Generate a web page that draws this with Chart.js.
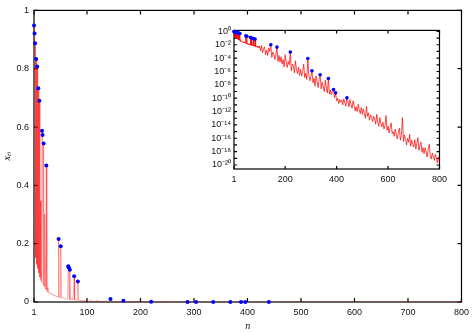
<!DOCTYPE html>
<html>
<head>
<meta charset="utf-8">
<script src="https://cdn.jsdelivr.net/npm/chart.js@4.4.1/dist/chart.umd.min.js"></script>
<style>
  html, body { margin: 0; padding: 0; background: #fff; }
  #wrap { position: relative; width: 474px; height: 333px; }
  #mainChart { position: absolute; left: 0; top: 0; }
  #insetChart { position: absolute; left: 196px; top: 22px; }
</style>
</head>
<body>
<div id="wrap">
  <canvas id="mainChart" width="474" height="333"></canvas>
  <canvas id="insetChart" width="256" height="170"></canvas>
</div>
<script>
// x_n, stored as log10(x_n)
const nEarly = [1, 2, 3, 4, 5, 6, 7, 8, 9, 10, 11, 12, 13, 14, 15, 16, 17, 18, 19, 20, 21, 22, 23, 24,
  25, 26, 27, 28, 30, 32, 34, 36, 38, 40, 42, 44, 46, 47, 48, 50, 51, 52, 54, 56, 58, 60, 62, 64,
  65, 66, 67, 68, 69, 70, 72, 74, 76, 77, 78, 80, 82, 83, 84, 86, 88, 90, 92, 94, 96, 98];
const logXEarly = [-0.023, -0.036, -0.052, -0.82, -0.079, -0.89, -0.093, -0.94, -0.135, -1.0, -0.161, -1.07,
  -0.46, -1.12, -1.17, -0.231, -0.242, -1.24, -0.265, -1.28, -0.52, -1.33, -1.35, -0.330,
  -1.40, -1.46, -1.30, -1.50, -1.55, -1.48, -1.60, -1.56, -1.68, -1.62, -1.74, -1.70, -1.80,
  -0.666, -1.78, -1.85, -0.719, -1.82, -1.92, -1.86, -1.97, -1.90, -2.02, -1.95,
  -0.913, -0.928, -2.05, -0.955, -2.0, -2.08, -2.0, -2.12, -1.056, -2.1, -2.18,
  -2.1, -2.22, -1.155, -2.15, -2.26, -2.2, -2.32, -2.25, -2.38, -2.3, -2.42];

const nLate = [100, 104, 108, 112, 116, 120, 124, 128, 132, 136, 140, 144, 148, 152, 156, 160, 164, 168, 172, 176,
  180, 184, 188, 192, 196, 200, 204, 208, 212, 216, 220, 224, 228, 232, 236, 240, 244, 248, 252, 256,
  260, 264, 268, 272, 276, 280, 284, 288, 292, 296, 300, 304, 308, 312, 316, 320, 324, 328, 332, 336,
  340, 344, 348, 352, 356, 360, 364, 368, 372, 376, 380, 384, 388, 392, 396, 400, 404, 408, 412, 416,
  420, 424, 428, 432, 436, 440, 444, 448, 452, 456, 460, 464, 468, 472, 476, 480, 484, 488, 492, 496,
  500, 504, 508, 512, 516, 520, 524, 528, 532, 536, 540, 544, 548, 552, 556, 560, 564, 568, 572, 576,
  580, 584, 588, 592, 596, 600, 604, 608, 612, 616, 620, 624, 628, 632, 636, 640, 644, 648, 652, 656,
  660, 664, 668, 672, 676, 680, 684, 688, 692, 696, 700, 704, 708, 712, 716, 720, 724, 728, 732, 736,
  740, 744, 748, 752, 756, 760, 764, 768, 772, 776, 780, 784, 788, 792, 796, 800];
const logXLate = [-2.2, -2.9, -2.1, -3.2, -2.6, -2.3, -3.5, -2.8, -3.6, -2.5,
  -3.0, -2.0, -3.9, -3.1, -3.4, -4.2, -3.5, -2.35, -4.5, -3.6,
  -4.6, -3.8, -4.9, -4.2, -5.3, -3.5, -4.6, -5.4, -4.5, -5.0,
  -3.1, -5.9, -4.9, -5.2, -6.2, -4.4, -5.8, -6.3, -5.4, -6.6,
  -5.7, -6.7, -6.0, -4.9, -6.9, -6.3, -7.2, -4.05, -6.5, -7.4,
  -6.8, -5.9, -7.7, -7.0, -8.2, -6.7, -7.5, -8.4, -7.1, -6.5,
  -8.6, -7.6, -8.3, -9.0, -7.3, -8.5, -9.2, -7.05, -9.4, -8.8,
  -9.5, -8.9, -8.7, -9.9, -9.2, -10.4, -10.0, -10.8, -10.2, -10.6,
  -10.3, -11.0, -10.1, -10.7, -11.2, -9.95, -10.5, -11.3, -10.2, -11.0,
  -11.5, -10.4, -11.1, -11.9, -11.3, -12.0, -10.9, -11.7, -12.3, -11.4,
  -12.4, -11.6, -12.3, -13.0, -11.2, -12.7, -12.2, -13.3, -12.5, -12.9,
  -13.5, -12.7, -13.1, -13.9, -12.4, -13.6, -14.2, -12.9, -13.8, -14.3,
  -13.6, -14.6, -14.1, -12.6, -14.8, -14.2, -15.2, -14.4, -13.7, -15.3,
  -15.0, -15.7, -14.6, -15.4, -16.1, -15.1, -14.5, -16.3, -15.5, -12.9,
  -16.5, -15.5, -16.2, -17.0, -16.0, -16.6, -15.4, -17.2, -16.3, -16.9,
  -17.3, -16.2, -17.6, -16.8, -15.9, -17.8, -17.1, -16.6, -18.1, -17.4,
  -18.3, -17.4, -18.0, -18.8, -17.7, -16.9, -18.6, -19.1, -18.2, -18.8,
  -19.3, -18.4, -19.0, -19.7, -18.9, -19.5];

// n where x_n is larger than every later value (blue dots)
const recordN = [1, 2, 3, 5, 7, 9, 11, 16, 17, 19, 24, 47, 51, 65, 66, 68, 76, 83,
  144, 168, 220, 288, 304, 336, 368, 388, 396, 440];

const mainXTicks = [1, 100, 200, 300, 400, 500, 600, 700, 800];
const insetXTicks = [1, 200, 400, 600, 800];
const insetYExponents = [0, -1, -2, -3, -4, -5, -6, -7, -8, -9, -10, -11, -12, -13, -14, -15, -16, -17, -18, -19, -20];

const nAll = nEarly.concat(nLate);
const logAll = logXEarly.concat(logXLate);
const series = nAll.map((n, i) => ({ x: n, y: Math.pow(10, logAll[i]) }));
const byN = new Map(series.map(p => [p.x, p.y]));
const records = recordN.map(n => ({ x: n, y: byN.get(n) }));

Chart.defaults.font.family = "'Liberation Sans', Arial, sans-serif";
Chart.defaults.font.size = 9;
Chart.defaults.color = '#111';

const supMap = { '-': '\u207B', '0': '\u2070', '1': '\u00B9', '2': '\u00B2', '3': '\u00B3', '4': '\u2074',
  '5': '\u2075', '6': '\u2076', '7': '\u2077', '8': '\u2078', '9': '\u2079' };
const sup = e => String(e).split('').map(c => supMap[c]).join('');

// box round the plot with inward ticks on all four sides
const frameTicks = {
  id: 'frameTicks',
  beforeDatasetsDraw(chart, args, opts) {
    const { ctx, chartArea: a, scales: { x, y } } = chart;
    const len = opts.len || 4;
    ctx.save();
    ctx.strokeStyle = '#000';
    ctx.lineWidth = opts.width || 1.2;
    ctx.strokeRect(a.left, a.top, a.right - a.left, a.bottom - a.top);
    ctx.beginPath();
    x.ticks.forEach(t => {
      const px = x.getPixelForValue(t.value);
      ctx.moveTo(px, a.bottom); ctx.lineTo(px, a.bottom - len);
      ctx.moveTo(px, a.top); ctx.lineTo(px, a.top + len);
    });
    y.ticks.forEach(t => {
      const py = y.getPixelForValue(t.value);
      ctx.moveTo(a.left, py); ctx.lineTo(a.left + len, py);
      ctx.moveTo(a.right, py); ctx.lineTo(a.right - len, py);
    });
    ctx.stroke();
    ctx.restore();
  }
};

const noGrid = { display: false, drawTicks: false };

new Chart(document.getElementById('mainChart'), {
  type: 'line',
  data: {
    datasets: [{
      data: records,
      showLine: false,
      pointRadius: 2,
      pointBackgroundColor: '#0000ff',
      pointBorderWidth: 0,
      clip: false,
    }, {
      data: series,
      borderColor: 'rgba(255,0,0,0.45)',
      borderWidth: 0.8,
      pointRadius: 0,
      tension: 0,
    }]
  },
  options: {
    responsive: false,
    animation: false,
    layout: { padding: { top: 2, right: 8 } },
    plugins: { legend: { display: false }, tooltip: { enabled: false }, frameTicks: { len: 4, width: 1.2 } },
    scales: {
      x: {
        type: 'linear', min: 1, max: 800,
        grid: noGrid, border: { display: false },
        afterBuildTicks: s => { s.ticks = mainXTicks.map(v => ({ value: v })); },
        afterFit: s => { s.height = 31; },
        ticks: { autoSkip: false, maxRotation: 0, padding: 5, callback: v => String(v) },
        title: { display: true, text: 'n', font: { family: "'Liberation Serif', serif", style: 'italic', size: 10 }, padding: { top: 0, bottom: 1 } }
      },
      y: {
        min: 0, max: 1,
        grid: noGrid, border: { display: false },
        afterFit: s => { s.width = 34; },
        ticks: { stepSize: 0.2, padding: 5, callback: v => String(+v.toFixed(1)) },
        title: { display: true, text: 'x\u2099', font: { family: "'Liberation Serif', serif", style: 'italic', size: 10 }, padding: { top: 1, bottom: 0 } }
      }
    }
  },
  plugins: [frameTicks]
});

new Chart(document.getElementById('insetChart'), {
  type: 'line',
  data: {
    datasets: [{
      data: records,
      showLine: false,
      pointRadius: 1.8,
      pointBackgroundColor: '#0000ff',
      pointBorderWidth: 0,
      clip: false,
    }, {
      data: series,
      borderColor: 'rgba(255,0,0,0.8)',
      borderWidth: 0.9,
      pointRadius: 0,
      tension: 0,
    }]
  },
  options: {
    responsive: false,
    animation: false,
    layout: { padding: { top: 6, right: 6 } },
    plugins: { legend: { display: false }, tooltip: { enabled: false }, frameTicks: { len: 3, width: 1.2 } },
    scales: {
      x: {
        type: 'linear', min: 1, max: 800,
        grid: noGrid, border: { display: false },
        afterBuildTicks: s => { s.ticks = insetXTicks.map(v => ({ value: v })); },
        afterFit: s => { s.height = 23; },
        ticks: { autoSkip: false, maxRotation: 0, padding: 5, callback: v => String(v) }
      },
      y: {
        type: 'logarithmic', min: Math.pow(10, -20.6), max: Math.pow(10, 0.15),
        grid: noGrid, border: { display: false },
        afterBuildTicks: s => { s.ticks = insetYExponents.map(e => ({ value: Math.pow(10, e) })); },
        afterFit: s => { s.width = 38; },
        ticks: {
          autoSkip: false, padding: 3,
          callback: v => {
            const e = Math.round(Math.log10(v));
            return e % 2 === 0 ? '10' + sup(e) : '';
          }
        }
      }
    }
  },
  plugins: [frameTicks]
});
</script>
</body>
</html>
